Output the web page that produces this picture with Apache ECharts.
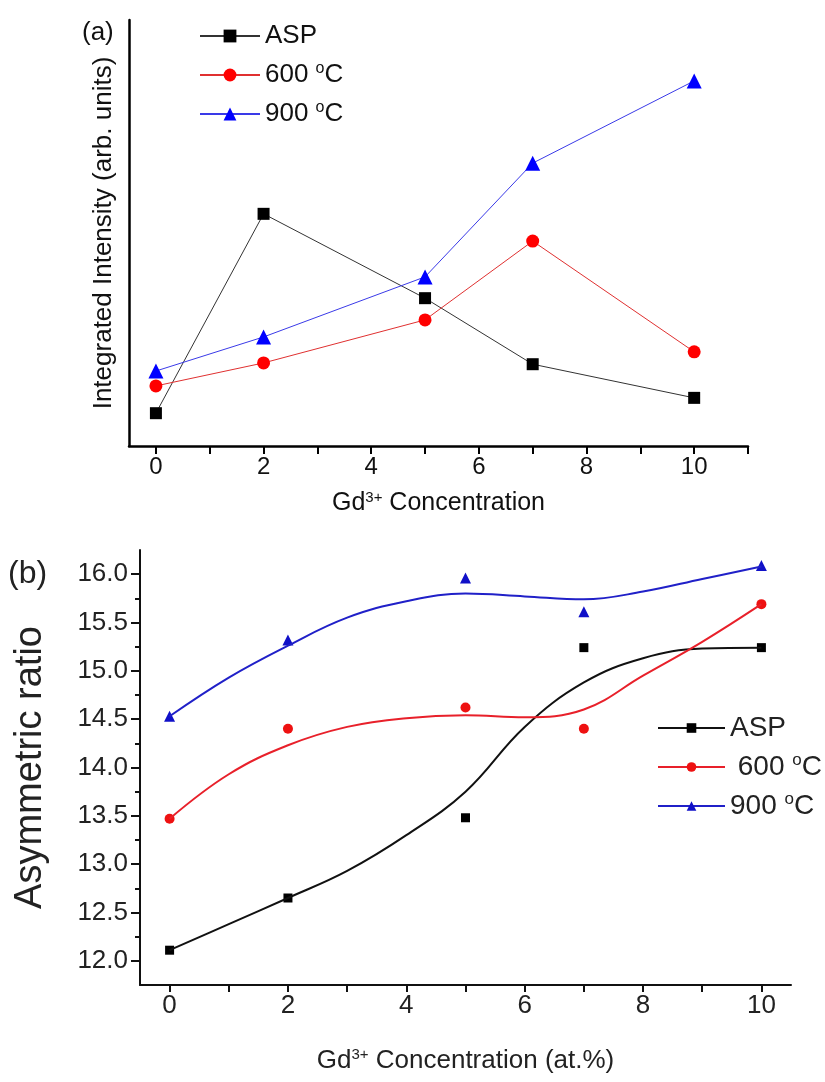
<!DOCTYPE html>
<html>
<head>
<meta charset="utf-8">
<script src="https://cdn.jsdelivr.net/npm/echarts@6/dist/echarts.min.js"></script>
<style>
html,body{margin:0;padding:0;background:#fff;}
#chart{width:825px;height:1082px;}
</style>
</head>
<body>
<div id="chart"></div>
<script>
// ---------- Panel (a) data ----------
const xA = [0, 2, 5, 7, 10];
const aspA = [7.7, 54.5, 34.7, 19.2, 11.3];
const t600A = [14.1, 19.5, 29.6, 48.1, 22.1];
const t900A = [17.6, 25.6, 39.7, 66.4, 85.7];
const xTicksA = [0, 1, 2, 3, 4, 5, 6, 7, 8, 9, 10, 11];
const xLabelsA = [0, 2, 4, 6, 8, 10];

// ---------- Panel (b) data ----------
const xB = [0, 2, 5, 7, 10];
const aspB = [12.11, 12.65, 13.48, 15.24, 15.24];
const t600B = [13.47, 14.40, 14.62, 14.40, 15.69];
const t900B = [14.53, 15.32, 15.96, 15.61, 16.09];
// fitted curves
const xFit = [0, 1, 2, 3, 4, 5, 6, 7, 8, 9, 10];
const aspFit = [12.11, 12.38, 12.65, 12.93, 13.30, 13.75, 14.42, 14.88, 15.13, 15.23, 15.24];
const t600Fit = [13.47, 13.93, 14.23, 14.42, 14.51, 14.54, 14.52, 14.60, 14.95, 15.30, 15.69];
const t900Fit = [14.53, 14.93, 15.26, 15.55, 15.72, 15.80, 15.77, 15.74, 15.82, 15.95, 16.08];
const xTicksB = [0, 1, 2, 3, 4, 5, 6, 7, 8, 9, 10];
const xLabelsB = [0, 2, 4, 6, 8, 10];
const yMajorB = [12.0, 12.5, 13.0, 13.5, 14.0, 14.5, 15.0, 15.5, 16.0];
const yMinorB = [12.25, 12.75, 13.25, 13.75, 14.25, 14.75, 15.25, 15.75];

const FONT = '"Liberation Sans", Arial, sans-serif';
const zip = (xs, ys) => xs.map((x, i) => [x, ys[i]]);

const legendText = {
  'ASP': 'ASP', '600A': '600 {sup|o}C', '900A': '900 {sup|o}C',
  'ASP-fit': 'ASP', '600-fit': ' 600 {sup|o}C', '900-fit': '900 {sup|o}C'
};
const supStyle = (size, color) => ({ fontSize: size, lineHeight: size, verticalAlign: 'top', fontFamily: FONT, color: color });

const chart = echarts.init(document.getElementById('chart'));
chart.setOption({
  animation: false,
  backgroundColor: '#fff',
  textStyle: { fontFamily: FONT },
  graphic: [
    { type: 'text', left: 82, top: 20, style: { text: '(a)', fontSize: 26, fontFamily: FONT, fill: '#111' } },
    { type: 'text', left: 8, top: 558, style: { text: '(b)', fontSize: 32, fontFamily: FONT, fill: '#222' } }
  ],
  grid: [
    { left: 129, top: 20, width: 619, height: 426 },
    { left: 140, top: 550, width: 651, height: 435 }
  ],
  legend: [
    {
      data: ['ASP', '600A', '900A'],
      orient: 'vertical', left: 194, top: 17, itemGap: 11,
      itemWidth: 60, itemHeight: 16,
      formatter: n => legendText[n],
      textStyle: { fontSize: 26, lineHeight: 28, color: '#111', fontFamily: FONT,
        rich: { sup: supStyle(16, '#111') } }
    },
    {
      data: ['ASP-fit', '600-fit', '900-fit'],
      orient: 'vertical', left: 652, top: 708, itemGap: 9,
      itemWidth: 67, itemHeight: 12,
      formatter: n => legendText[n],
      textStyle: { fontSize: 28, lineHeight: 30, color: '#222', fontFamily: FONT,
        rich: { sup: supStyle(17, '#222') } }
    }
  ],
  xAxis: [
    {
      gridIndex: 0, type: 'value', min: -0.5, max: 11,
      axisLine: { onZero: false, lineStyle: { color: '#000', width: 2.5 } },
      axisTick: { customValues: xTicksA, length: 8, lineStyle: { color: '#000', width: 2 } },
      axisLabel: { customValues: xLabelsA, fontSize: 24, color: '#111', margin: 9, fontFamily: FONT },
      splitLine: { show: false },
      name: 'Gd{sup|3+} Concentration', nameLocation: 'middle', nameGap: 44,
      nameTextStyle: { fontSize: 25, lineHeight: 27, color: '#111', fontFamily: FONT,
        rich: { sup: supStyle(15, '#111') } }
    },
    {
      gridIndex: 1, type: 'value', min: -0.5, max: 10.5,
      axisLine: { onZero: false, lineStyle: { color: '#111', width: 2 } },
      axisTick: { customValues: xTicksB, length: 7, lineStyle: { color: '#111', width: 2 } },
      axisLabel: { customValues: xLabelsB, fontSize: 26, color: '#222', margin: 8, fontFamily: FONT },
      splitLine: { show: false },
      name: 'Gd{sup|3+} Concentration (at.%)', nameLocation: 'middle', nameGap: 62,
      nameTextStyle: { fontSize: 26, lineHeight: 28, color: '#222', fontFamily: FONT,
        rich: { sup: supStyle(15, '#222') } }
    }
  ],
  yAxis: [
    {
      gridIndex: 0, type: 'value', min: 0, max: 100,
      axisLine: { show: true, onZero: false, lineStyle: { color: '#000', width: 2.5 } },
      axisTick: { show: false }, axisLabel: { show: false }, splitLine: { show: false },
      name: 'Integrated Intensity (arb. units)', nameLocation: 'middle', nameGap: 12,
      nameTextStyle: { fontSize: 26, color: '#111', fontFamily: FONT }
    },
    {
      gridIndex: 1, type: 'value', min: 11.75, max: 16.25, position: 'left',
      axisLine: { show: true, onZero: false, lineStyle: { color: '#111', width: 2 } },
      axisTick: { customValues: yMajorB, length: 9, lineStyle: { color: '#111', width: 2 } },
      axisLabel: { customValues: yMajorB, fontSize: 26, color: '#222', margin: 12, fontFamily: FONT,
        formatter: v => v.toFixed(1) },
      splitLine: { show: false },
      name: 'Asymmetric ratio', nameLocation: 'middle', nameGap: 90,
      nameTextStyle: { fontSize: 38, color: '#222', fontFamily: FONT }
    },
    {
      gridIndex: 1, type: 'value', min: 11.75, max: 16.25, position: 'left', offset: 0,
      axisLine: { show: false, onZero: false },
      axisTick: { customValues: yMinorB, length: 5, lineStyle: { color: '#111', width: 2 } },
      axisLabel: { show: false }, splitLine: { show: false }
    }
  ],
  series: [
    // panel (a)
    { name: 'ASP', type: 'line', xAxisIndex: 0, yAxisIndex: 0, data: zip(xA, aspA),
      symbol: 'rect', symbolSize: 12, itemStyle: { color: '#000' },
      lineStyle: { color: '#333', width: 1 } },
    { name: '600A', type: 'line', xAxisIndex: 0, yAxisIndex: 0, data: zip(xA, t600A),
      symbol: 'circle', symbolSize: 13, itemStyle: { color: '#ff0000' },
      lineStyle: { color: '#e03030', width: 1 } },
    { name: '900A', type: 'line', xAxisIndex: 0, yAxisIndex: 0, data: zip(xA, t900A),
      symbol: 'triangle', symbolSize: 15, itemStyle: { color: '#0000ff' },
      lineStyle: { color: '#3a3ae8', width: 1 } },
    // panel (b) fitted curves
    { name: 'ASP-fit', type: 'line', xAxisIndex: 1, yAxisIndex: 1, data: zip(xFit, aspFit),
      smooth: 0.4, symbol: 'rect', symbolSize: 9, showSymbol: false,
      itemStyle: { color: '#000' }, lineStyle: { color: '#111', width: 2 } },
    { name: '600-fit', type: 'line', xAxisIndex: 1, yAxisIndex: 1, data: zip(xFit, t600Fit),
      smooth: 0.4, symbol: 'circle', symbolSize: 10, showSymbol: false,
      itemStyle: { color: '#ee1111' }, lineStyle: { color: '#e8202a', width: 2 } },
    { name: '900-fit', type: 'line', xAxisIndex: 1, yAxisIndex: 1, data: zip(xFit, t900Fit),
      smooth: 0.4, symbol: 'triangle', symbolSize: 11, showSymbol: false,
      itemStyle: { color: '#1010c8' }, lineStyle: { color: '#2020c8', width: 2 } },
    // panel (b) measured points
    { name: 'ASP pts', type: 'scatter', xAxisIndex: 1, yAxisIndex: 1, data: zip(xB, aspB),
      symbol: 'rect', symbolSize: 9, itemStyle: { color: '#000', opacity: 1 } },
    { name: '600 pts', type: 'scatter', xAxisIndex: 1, yAxisIndex: 1, data: zip(xB, t600B),
      symbol: 'circle', symbolSize: 10, itemStyle: { color: '#ee1111', opacity: 1 } },
    { name: '900 pts', type: 'scatter', xAxisIndex: 1, yAxisIndex: 1, data: zip(xB, t900B),
      symbol: 'triangle', symbolSize: 11, itemStyle: { color: '#1010c8', opacity: 1 } }
  ]
});
</script>
</body>
</html>
